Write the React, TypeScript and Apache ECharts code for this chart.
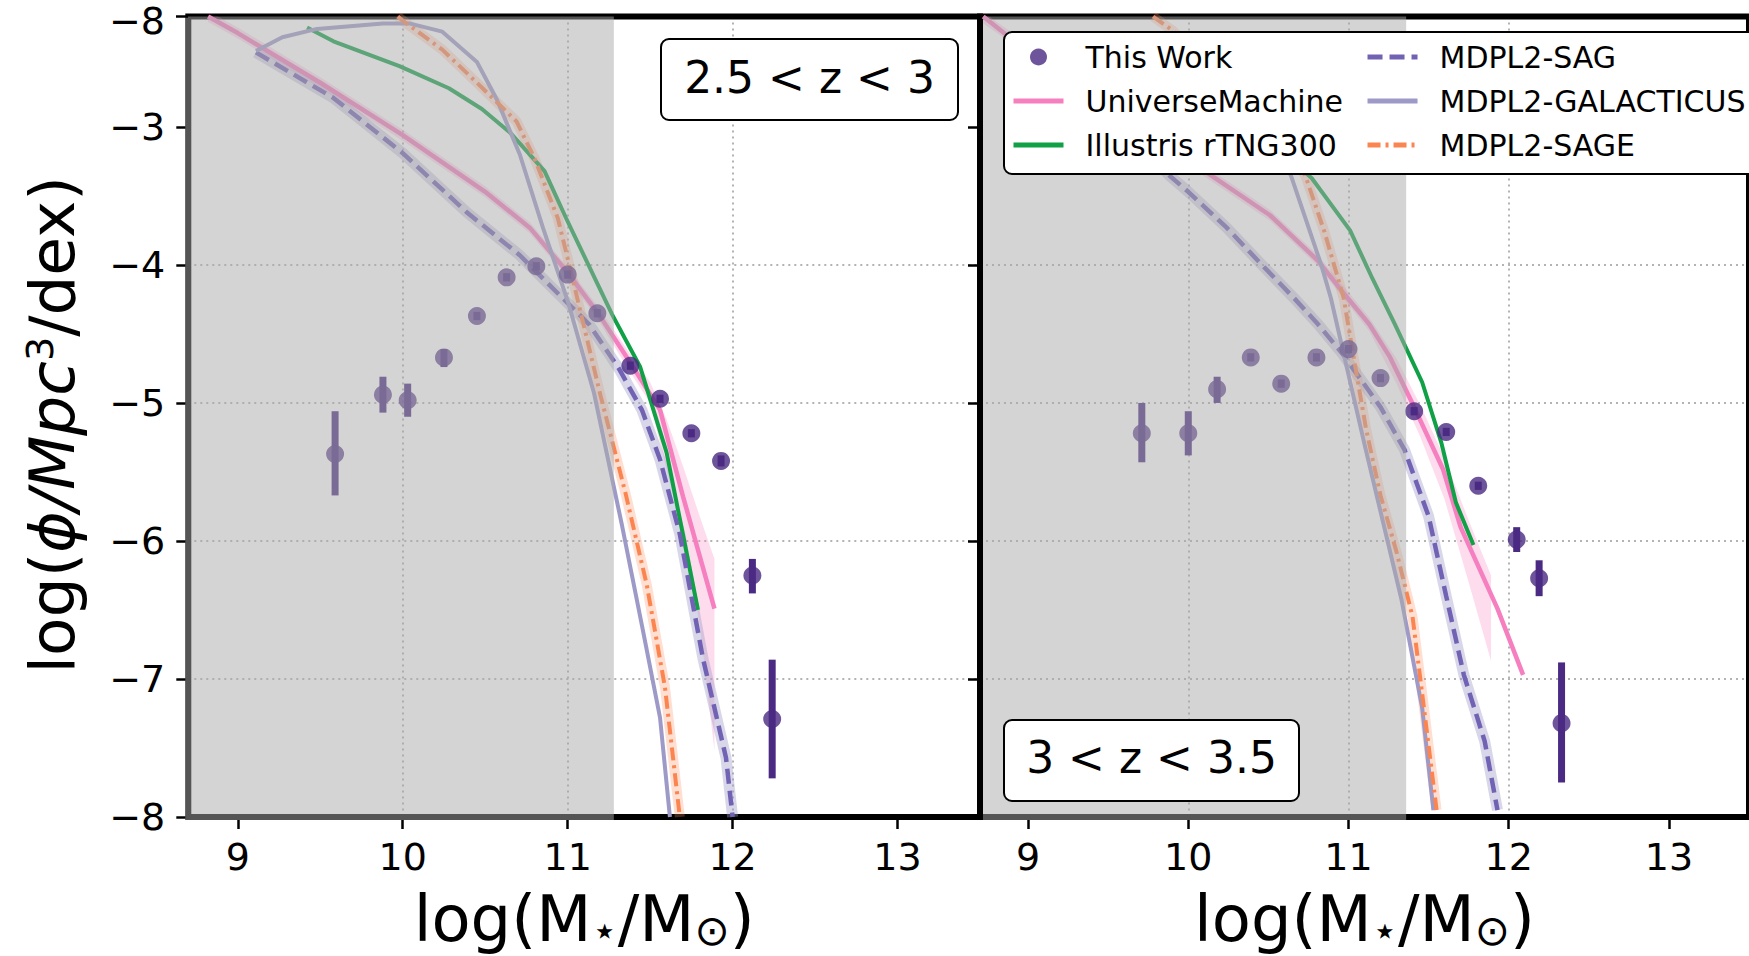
import React, { useEffect, useRef } from 'react';
import * as echarts from 'echarts';

const FONT = '"DejaVu Sans", sans-serif';

// axes
const xRange = [8.7, 13.5];
const yRange = [-8, -2.2];
const xTicks = [9, 10, 11, 12, 13];
const yTicks = [-8, -7, -6, -5, -4, -3];
const shadeEnd = [11.28, 11.36];
const panelLabels = ['2.5 < z < 3', '3 < z < 3.5'];
const upperPanelTickLabel = '−8';

const legendNames = ['This Work', 'UniverseMachine', 'Illustris rTNG300', 'MDPL2-SAG', 'MDPL2-GALACTICUS', 'MDPL2-SAGE'];

// This Work: [logM, logPhi, low, high]
const thisWorkLeft = [
  [9.59, -5.37, -5.67, -5.06],
  [9.88, -4.94, -5.07, -4.81],
  [10.03, -4.98, -5.10, -4.86],
  [10.25, -4.67, -4.74, -4.61],
  [10.45, -4.37, -4.40, -4.34],
  [10.63, -4.09, -4.12, -4.06],
  [10.81, -4.01, -4.04, -3.98],
  [11.00, -4.07, -4.10, -4.04],
  [11.18, -4.35, -4.38, -4.32],
  [11.38, -4.73, -4.76, -4.70],
  [11.56, -4.97, -5.00, -4.94],
  [11.75, -5.22, -5.25, -5.19],
  [11.93, -5.42, -5.46, -5.38],
  [12.12, -6.25, -6.38, -6.13],
  [12.24, -7.29, -7.72, -6.86],
];
const thisWorkRight = [
  [9.71, -5.22, -5.43, -5.00],
  [10.00, -5.22, -5.38, -5.06],
  [10.18, -4.90, -5.00, -4.81],
  [10.39, -4.67, -4.70, -4.64],
  [10.58, -4.86, -4.89, -4.83],
  [10.80, -4.67, -4.70, -4.64],
  [11.00, -4.61, -4.64, -4.58],
  [11.20, -4.82, -4.85, -4.79],
  [11.41, -5.06, -5.09, -5.03],
  [11.61, -5.21, -5.24, -5.18],
  [11.81, -5.60, -5.63, -5.57],
  [12.05, -5.99, -6.08, -5.90],
  [12.19, -6.27, -6.40, -6.14],
  [12.33, -7.32, -7.75, -6.88],
];

// UniverseMachine
const umLeft = [[8.82, -2.2], [9.0, -2.32], [9.5, -2.68], [10.0, -3.06], [10.5, -3.47], [10.77, -3.73], [10.99, -4.04], [11.19, -4.36], [11.37, -4.69], [11.56, -5.05], [11.70, -5.68], [11.85, -6.32], [11.89, -6.49]];
const umBandLeft = [[8.82, -2.16, -2.24], [9.0, -2.28, -2.36], [9.5, -2.64, -2.72], [10.0, -3.02, -3.10], [10.5, -3.43, -3.51], [10.77, -3.69, -3.77], [10.99, -4.0, -4.08], [11.19, -4.31, -4.41], [11.37, -4.63, -4.76], [11.5, -4.85, -5.0], [11.6, -5.12, -5.48], [11.7, -5.46, -5.95], [11.8, -5.82, -6.6], [11.89, -6.13, -7.52]];
const umRight = [[8.72, -2.2], [8.85, -2.32], [9.2, -2.6], [9.6, -2.92], [10.14, -3.35], [10.51, -3.64], [10.81, -3.97], [10.98, -4.22], [11.13, -4.43], [11.26, -4.67], [11.41, -5.03], [11.59, -5.48], [11.70, -5.90], [11.93, -6.49], [12.09, -6.97]];
const umBandRight = [[8.72, -2.17, -2.25], [9.2, -2.56, -2.64], [9.6, -2.88, -2.96], [10.14, -3.31, -3.39], [10.51, -3.6, -3.68], [10.81, -3.93, -4.01], [11.13, -4.38, -4.48], [11.3, -4.68, -4.86], [11.45, -5.02, -5.25], [11.6, -5.4, -5.7], [11.75, -5.85, -6.3], [11.89, -6.25, -6.87]];

// Illustris rTNG300
const illustrisLeft = [[9.42, -2.28], [9.58, -2.38], [9.98, -2.56], [10.28, -2.72], [10.48, -2.87], [10.65, -3.04], [10.86, -3.32], [10.99, -3.66], [11.07, -3.86], [11.27, -4.36], [11.44, -4.74], [11.60, -5.36], [11.79, -6.50]];
const illustrisRight = [[9.6, -2.45], [10.0, -2.68], [10.4, -3.0], [10.77, -3.37], [11.01, -3.75], [11.15, -4.1], [11.29, -4.43], [11.46, -4.85], [11.58, -5.29], [11.67, -5.72], [11.78, -6.03]];

// MDPL2-SAG
const sagLeft = [[9.11, -2.46], [9.58, -2.79], [10.0, -3.19], [10.39, -3.62], [10.71, -3.93], [10.91, -4.17], [11.13, -4.43], [11.31, -4.75], [11.45, -5.05], [11.56, -5.41], [11.68, -5.95], [11.82, -6.85], [11.96, -7.57], [12.0, -8.0]];
const sagRight = [[9.1, -2.45], [9.5, -2.9], [9.88, -3.35], [10.0, -3.47], [10.24, -3.73], [10.46, -4.0], [10.66, -4.24], [10.81, -4.43], [10.96, -4.64], [11.20, -5.03], [11.35, -5.34], [11.50, -5.82], [11.61, -6.40], [11.72, -6.97], [11.85, -7.45], [11.93, -7.95]];

// MDPL2-GALACTICUS
const galLeft = [[9.11, -2.45], [9.27, -2.35], [9.48, -2.29], [9.88, -2.25], [10.04, -2.25], [10.24, -2.31], [10.45, -2.53], [10.57, -2.80], [10.71, -3.20], [10.85, -3.73], [11.0, -4.26], [11.16, -4.93], [11.33, -5.89], [11.45, -6.61], [11.56, -7.28], [11.62, -8.0]];
const galRight = [[9.1, -2.5], [9.5, -2.4], [10.0, -2.42], [10.3, -2.7], [10.64, -3.35], [10.83, -4.0], [10.89, -4.24], [11.1, -5.3], [11.33, -6.42], [11.46, -7.21], [11.53, -7.95]];

// MDPL2-SAGE
const sageLeft = [[9.97, -2.2], [10.0, -2.23], [10.24, -2.44], [10.45, -2.68], [10.69, -2.96], [10.80, -3.23], [10.94, -3.66], [11.02, -4.05], [11.10, -4.45], [11.20, -4.95], [11.35, -5.65], [11.48, -6.32], [11.59, -7.06], [11.68, -8.0]];
const sageRight = [[9.78, -2.2], [9.9, -2.3], [10.2, -2.65], [10.5, -3.0], [10.73, -3.35], [10.85, -3.76], [10.97, -4.24], [11.04, -4.72], [11.11, -5.19], [11.20, -5.67], [11.30, -6.08], [11.40, -6.55], [11.47, -7.2], [11.55, -7.95]];

const C = {
  work: '#4a2a82',
  um: '#f57fbf',
  umBand: 'rgba(247,129,191,0.28)',
  ill: '#10a046',
  sag: '#7262b3',
  sagHalo: 'rgba(158,154,200,0.4)',
  gal: '#9e9ac8',
  sage: '#fb8550',
  sageHalo: 'rgba(252,141,89,0.28)',
  shade: 'rgba(169,169,169,0.5)',
};

const fmt = (v: number) => (v < 0 ? '−' + Math.abs(v) : String(v));

function lineS(name: string, data: number[][], idx: number, color: string, width: number, type: any, z = 2) {
  return {
    type: 'line', name, data, xAxisIndex: idx, yAxisIndex: idx, symbol: 'none', showSymbol: false,
    silent: true, z, clip: true,
    lineStyle: { color, width, type, cap: 'butt' }, itemStyle: { color, opacity: 0 },
  };
}

function bandS(band: number[][], idx: number) {
  return {
    type: 'custom', name: 'band' + idx, xAxisIndex: idx, yAxisIndex: idx, z: 1, silent: true, clip: true,
    data: [[band[0][0], band[0][1]]],
    renderItem: (_p: any, api: any) => {
      const up = band.map((b) => api.coord([b[0], b[1]]));
      const lo = band.slice().reverse().map((b) => api.coord([b[0], b[2]]));
      return { type: 'polygon', shape: { points: up.concat(lo) }, style: { fill: C.umBand } };
    },
  };
}

function errS(pts: number[][], idx: number) {
  return {
    type: 'custom', name: 'errors' + idx, xAxisIndex: idx, yAxisIndex: idx, z: 3, silent: true, clip: true,
    data: pts, encode: { x: 0, y: 1 },
    renderItem: (_p: any, api: any) => {
      const a = api.coord([api.value(0), api.value(3)]);
      const b = api.coord([api.value(0), api.value(2)]);
      return { type: 'rect', shape: { x: a[0] - 3.5, y: a[1], width: 7, height: b[1] - a[1] }, style: { fill: C.work } };
    },
  };
}

function shadeS(idx: number) {
  const pad = idx === 0 ? -3 : 3;
  return {
    type: 'custom', name: 'shade' + idx, xAxisIndex: idx, yAxisIndex: idx, z: 5, silent: true, clip: false,
    data: [[xRange[0], yRange[0]]],
    renderItem: (_p: any, api: any) => {
      const a = api.coord([xRange[0], yRange[1]]);
      const b = api.coord([shadeEnd[idx], yRange[0]]);
      return { type: 'rect', shape: { x: a[0] + pad, y: a[1], width: b[0] - a[0] - pad, height: b[1] - a[1] + 3 }, style: { fill: C.shade } };
    },
  };
}

function panel(idx: number, work: number[][], um: number[][], umBand: number[][], ill: number[][], sag: number[][], gal: number[][], sage: number[][]) {
  return [
    bandS(umBand, idx),
    lineS('sagHalo' + idx, sag, idx, C.sagHalo, 11, 'solid', 1),
    lineS('sageHalo' + idx, sage, idx, C.sageHalo, 10, 'solid', 1),
    lineS('UniverseMachine', um, idx, C.um, 4.5, 'solid'),
    lineS('Illustris rTNG300', ill, idx, C.ill, 4, 'solid'),
    lineS('MDPL2-SAG', sag, idx, C.sag, 4.5, [15, 7]),
    lineS('MDPL2-GALACTICUS', gal, idx, C.gal, 4, 'solid'),
    lineS('MDPL2-SAGE', sage, idx, C.sage, 4, [13, 5, 3, 5]),
    errS(work, idx),
    {
      type: 'scatter', name: 'This Work', data: work.map((p) => [p[0], p[1]]), xAxisIndex: idx, yAxisIndex: idx,
      symbol: 'circle', symbolSize: 18, itemStyle: { color: C.work }, z: 4, silent: true,
    },
    shadeS(idx),
  ];
}

const gridLine = { show: true, showMinLine: false, showMaxLine: false, lineStyle: { color: '#b3b3b3', width: 2, type: [2, 4] } };
const tick = { show: true, inside: false, length: 12, lineStyle: { color: '#000', width: 2.5 } };

function xAxis(idx: number) {
  return {
    type: 'value', gridIndex: idx, min: xRange[0], max: xRange[1],
    axisLine: { show: false },
    axisTick: { ...tick, customValues: xTicks },
    axisLabel: { customValues: xTicks, formatter: fmt, fontSize: 38, color: '#000', fontFamily: FONT, margin: 21 },
    splitLine: gridLine,
    name: 'log(M{sub|⋆}/M{sub|⊙})', nameLocation: 'middle', nameGap: 70,
    nameTextStyle: {
      fontSize: 64, color: '#000', fontFamily: FONT, lineHeight: 64,
      rich: { sub: { fontSize: 42, lineHeight: 32, verticalAlign: 'bottom', fontFamily: FONT, color: '#000' } },
    },
  };
}

function yAxis(idx: number) {
  return {
    type: 'value', gridIndex: idx, min: yRange[0], max: yRange[1],
    axisLine: { show: false },
    axisTick: { ...tick, customValues: yTicks },
    axisLabel: { show: idx === 0, customValues: yTicks, formatter: fmt, fontSize: 38, color: '#000', fontFamily: FONT, margin: 23 },
    splitLine: gridLine,
    name: idx === 0 ? 'log({it|ϕ/Mpc}{sup|3}/dex)' : '', nameLocation: 'middle', nameRotate: 90, nameGap: 104,
    nameTextStyle: {
      fontSize: 63, color: '#000', fontFamily: FONT, lineHeight: 63, padding: [0, 16, 0, 0],
      rich: {
        it: { fontSize: 63, fontStyle: 'italic', fontFamily: FONT, color: '#000', lineHeight: 63 },
        sup: { fontSize: 38, lineHeight: 20, verticalAlign: 'top', fontFamily: FONT, color: '#000' },
      },
    },
  };
}

const gridCommon = { show: true, borderColor: '#000', borderWidth: 6, backgroundColor: 'transparent', containLabel: false, z: 1 };

const option: any = {
  animation: false,
  backgroundColor: '#fff',
  textStyle: { fontFamily: FONT },
  grid: [
    { ...gridCommon, left: 188.3, top: 16.5, width: 791.7, height: 807 },
    { ...gridCommon, left: 980, top: 16.5, width: 792, height: 807 },
  ],
  xAxis: [xAxis(0), xAxis(1)],
  yAxis: [yAxis(0), yAxis(1)],
  legend: {
    data: legendNames, orient: 'vertical', left: 1004, top: 32, height: 120,
    padding: [10, 12, 14, 7], itemGap: 14, itemWidth: 50, itemHeight: 17,
    backgroundColor: '#fff', borderColor: '#000', borderWidth: 2, borderRadius: 8,
    selectedMode: false, z: 10,
    lineStyle: { width: 5 },
    textStyle: { fontSize: 30, color: '#000', fontFamily: FONT, lineHeight: 30, padding: [0, 8, 0, 17] },
  },
  graphic: [
    { type: 'rect', z: 20, shape: { x: 661, y: 39, width: 297, height: 81, r: 8 }, style: { fill: '#fff', stroke: '#000', lineWidth: 2 } },
    { type: 'text', z: 21, x: 809.5, y: 77, style: { text: panelLabels[0], fontSize: 44, fontFamily: FONT, fill: '#000', align: 'center', verticalAlign: 'middle' } },
    { type: 'rect', z: 20, shape: { x: 1004, y: 720, width: 295, height: 81, r: 8 }, style: { fill: '#fff', stroke: '#000', lineWidth: 2 } },
    { type: 'text', z: 21, x: 1151.5, y: 757, style: { text: panelLabels[1], fontSize: 44, fontFamily: FONT, fill: '#000', align: 'center', verticalAlign: 'middle' } },
    { type: 'text', z: 21, x: 165, y: 21, style: { text: upperPanelTickLabel, fontSize: 38, fontFamily: FONT, fill: '#000', align: 'right', verticalAlign: 'middle' } },
    { type: 'line', z: 21, shape: { x1: 176, y1: 16.5, x2: 188, y2: 16.5 }, style: { stroke: '#000', lineWidth: 2.5 } },
  ],
  series: [
    ...panel(0, thisWorkLeft, umLeft, umBandLeft, illustrisLeft, sagLeft, galLeft, sageLeft),
    ...panel(1, thisWorkRight, umRight, umBandRight, illustrisRight, sagRight, galRight, sageRight),
  ],
};

export default function App() {
  const ref = useRef<HTMLDivElement>(null);
  useEffect(() => {
    const chart = echarts.init(ref.current as HTMLDivElement, null, { renderer: 'svg' });
    chart.setOption(option);
    return () => chart.dispose();
  }, []);
  return <div ref={ref} style={{ position: 'fixed', left: 0, top: 0, width: 1749, height: 956, background: '#fff', overflow: 'hidden' }} />;
}
